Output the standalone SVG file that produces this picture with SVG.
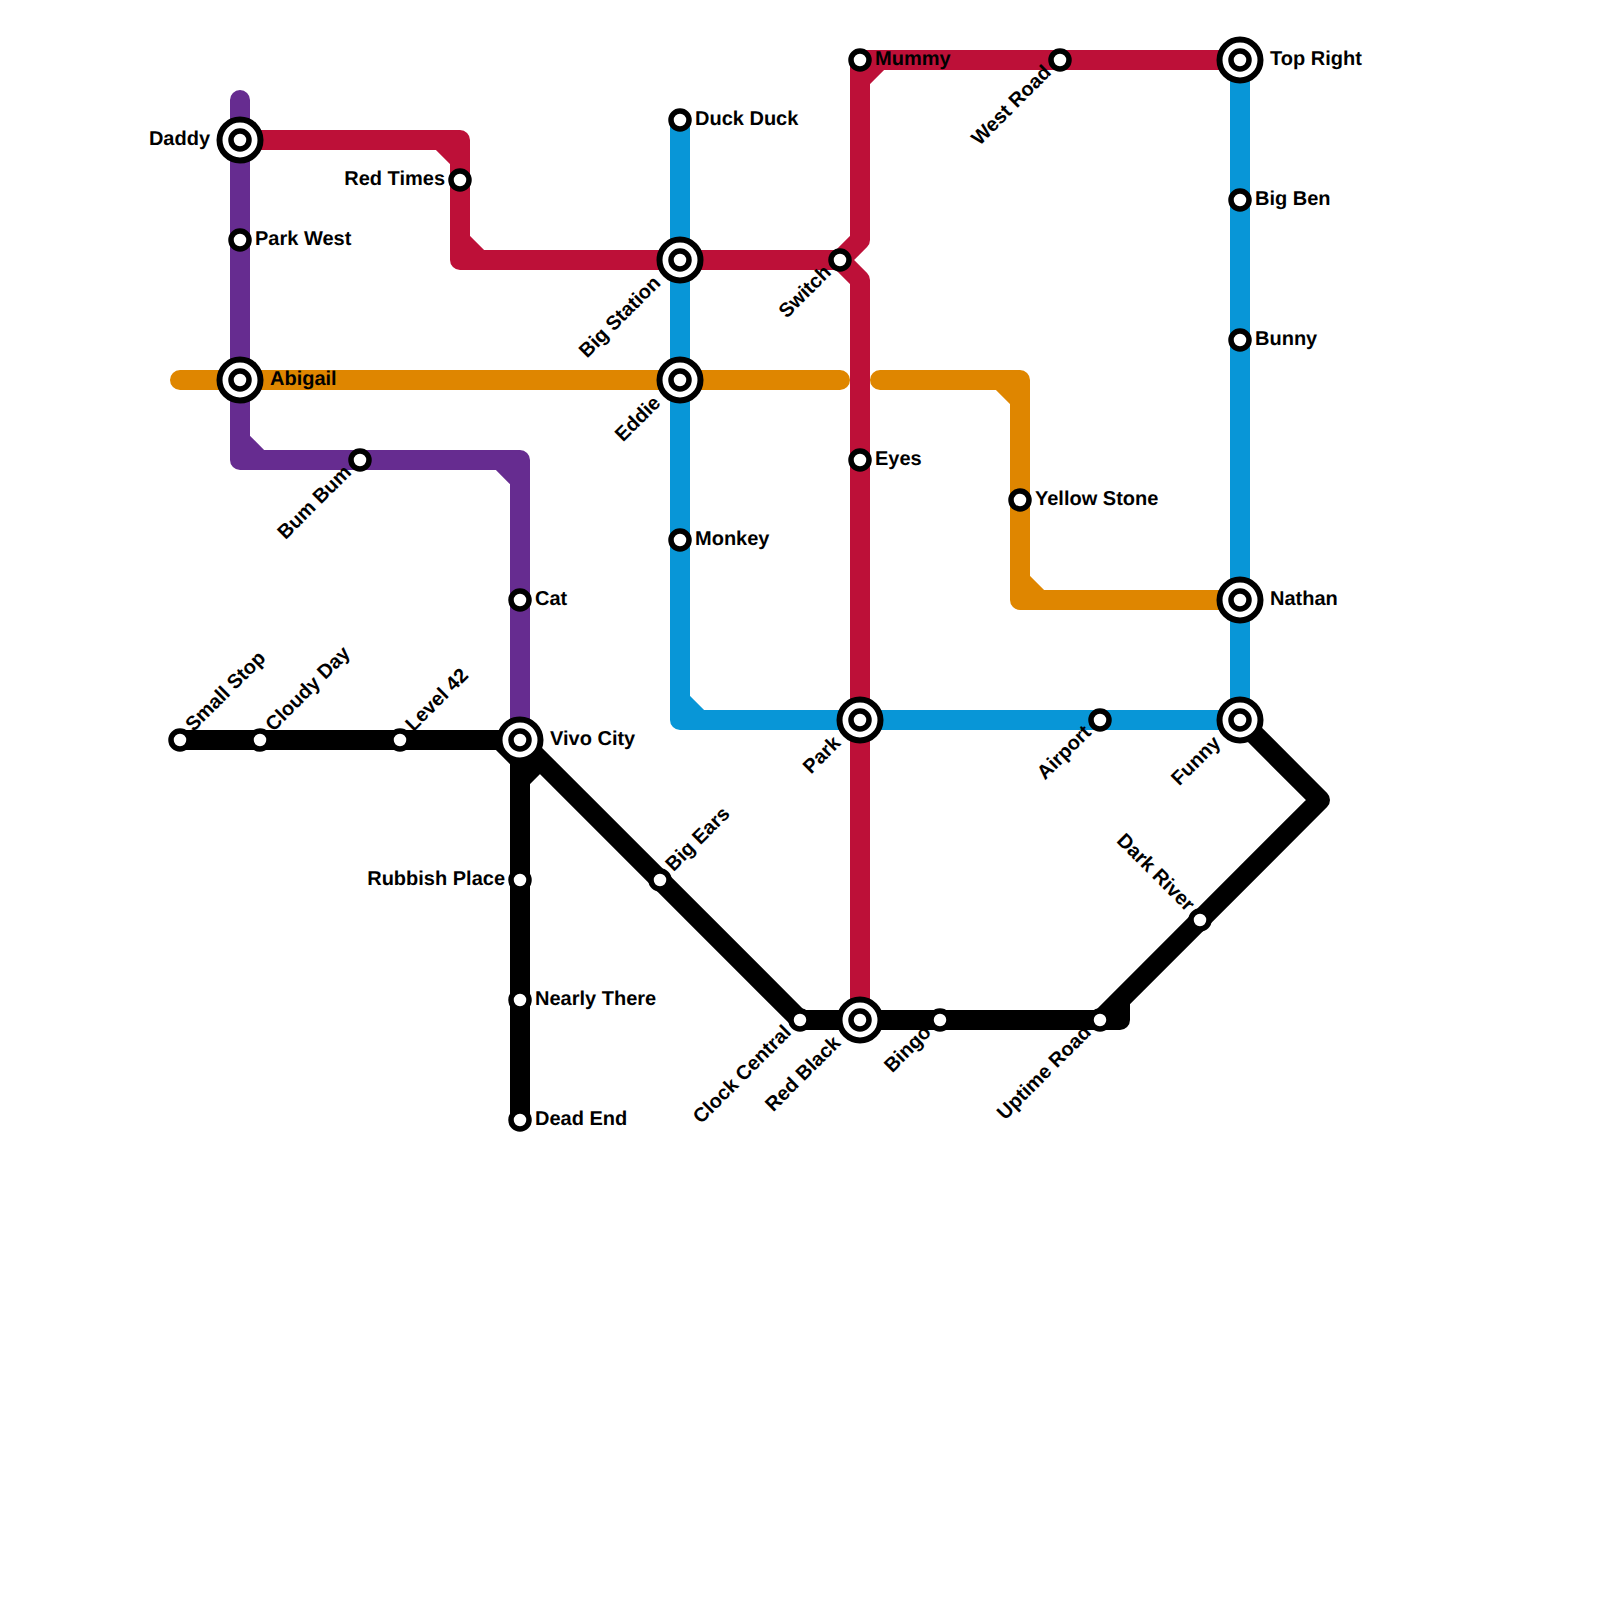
<svg xmlns="http://www.w3.org/2000/svg" width="1600" height="1600" viewBox="0 0 1600 1600">
<style>
.line{fill:none;stroke-width:20;stroke-linecap:round;stroke-linejoin:round}
.red{stroke:#bd1038}.purple{stroke:#662c90}.orange{stroke:#df8600}.blue{stroke:#0896d7}.black{stroke:#000}
.ring{fill:#fff;stroke:#000;stroke-width:5.5}
.outer{fill:#fff;stroke:#000;stroke-width:6}
text{font-family:"Liberation Sans",Arial,sans-serif;font-weight:700;font-size:20px;fill:#000;text-rendering:geometricPrecision}
.e{text-anchor:end}
</style>
<defs>
<g id="st"><circle class="ring" r="9"/></g>
<g id="ix"><circle class="outer" r="20.5"/><circle class="ring" r="9"/></g>
</defs>
<g id="connectors">
<path class="line blue" d="M680 120V720H1240M680 700L700 720M1240 60V720"/>
<path class="line purple" d="M240 100V460H520V740M240 440L260 460M500 460L520 480"/>
<path class="line orange" d="M180 380H840M880 380H1020V600H1240M1000 380L1020 400M1020 580L1040 600"/>
<path class="line red" d="M240 140H460V260H840L860 240V60H1240M440 140L460 160M460 240L480 260M860 80L880 60M840 260L860 280V1020"/>
<path class="line black" d="M180 740H520V1120M500 740L520 760M520 780L540 760M520 740L800 1020H1120V1000M1240 720L1320 800L1100 1020"/>
</g>
<g id="n-daddy"><use href="#ix" x="240" y="140"/><text class="e" x="210" y="145">Daddy</text></g>
<g id="n-park-west"><use href="#st" x="240" y="240"/><text x="255" y="245">Park West</text></g>
<g id="n-abigail"><use href="#ix" x="240" y="380"/><text x="270" y="385">Abigail</text></g>
<g id="n-red-times"><use href="#st" x="460" y="180"/><text class="e" x="445" y="185">Red Times</text></g>
<g id="n-bum-bum"><use href="#st" x="360" y="460"/><text class="e" transform="translate(360 460) rotate(-45)" x="-15" y="4">Bum Bum</text></g>
<g id="n-cat"><use href="#st" x="520" y="600"/><text x="535" y="605">Cat</text></g>
<g id="n-small-stop"><use href="#st" x="180" y="740"/><text transform="translate(180 740) rotate(-45)" x="15" y="4">Small Stop</text></g>
<g id="n-cloudy-day"><use href="#st" x="260" y="740"/><text transform="translate(260 740) rotate(-45)" x="15" y="4">Cloudy Day</text></g>
<g id="n-level-42"><use href="#st" x="400" y="740"/><text transform="translate(400 740) rotate(-45)" x="15" y="4">Level 42</text></g>
<g id="n-vivo-city"><use href="#ix" x="520" y="740"/><text x="550" y="745">Vivo City</text></g>
<g id="n-rubbish-place"><use href="#st" x="520" y="880"/><text class="e" x="505" y="885">Rubbish Place</text></g>
<g id="n-nearly-there"><use href="#st" x="520" y="1000"/><text x="535" y="1005">Nearly There</text></g>
<g id="n-dead-end"><use href="#st" x="520" y="1120"/><text x="535" y="1125">Dead End</text></g>
<g id="n-big-ears"><use href="#st" x="660" y="880"/><text transform="translate(660 880) rotate(-45)" x="15" y="4">Big Ears</text></g>
<g id="n-duck-duck"><use href="#st" x="680" y="120"/><text x="695" y="125">Duck Duck</text></g>
<g id="n-big-station"><use href="#ix" x="680" y="260"/><text class="e" transform="translate(680 260) rotate(-45)" x="-30" y="4">Big Station</text></g>
<g id="n-eddie"><use href="#ix" x="680" y="380"/><text class="e" transform="translate(680 380) rotate(-45)" x="-30" y="4">Eddie</text></g>
<g id="n-monkey"><use href="#st" x="680" y="540"/><text x="695" y="545">Monkey</text></g>
<g id="n-clock-central"><use href="#st" x="800" y="1020"/><text class="e" transform="translate(800 1020) rotate(-45)" x="-15" y="4">Clock Central</text></g>
<g id="n-switch"><use href="#st" x="840" y="260"/><text class="e" transform="translate(840 260) rotate(-45)" x="-15" y="4">Switch</text></g>
<g id="n-mummy"><use href="#st" x="860" y="60"/><text x="875" y="65">Mummy</text></g>
<g id="n-eyes"><use href="#st" x="860" y="460"/><text x="875" y="465">Eyes</text></g>
<g id="n-park"><use href="#ix" x="860" y="720"/><text class="e" transform="translate(860 720) rotate(-45)" x="-30" y="4">Park</text></g>
<g id="n-red-black"><use href="#ix" x="860" y="1020"/><text class="e" transform="translate(860 1020) rotate(-45)" x="-30" y="4">Red Black</text></g>
<g id="n-bingo"><use href="#st" x="940" y="1020"/><text class="e" transform="translate(940 1020) rotate(-45)" x="-15" y="4">Bingo</text></g>
<g id="n-yellow-stone"><use href="#st" x="1020" y="500"/><text x="1035" y="505">Yellow Stone</text></g>
<g id="n-west-road"><use href="#st" x="1060" y="60"/><text class="e" transform="translate(1060 60) rotate(-45)" x="-15" y="4">West Road</text></g>
<g id="n-airport"><use href="#st" x="1100" y="720"/><text class="e" transform="translate(1100 720) rotate(-45)" x="-15" y="4">Airport</text></g>
<g id="n-uptime-road"><use href="#st" x="1100" y="1020"/><text class="e" transform="translate(1100 1020) rotate(-45)" x="-15" y="4">Uptime Road</text></g>
<g id="n-dark-river"><use href="#st" x="1200" y="920"/><text class="e" transform="translate(1200 920) rotate(45)" x="-15" y="4">Dark River</text></g>
<g id="n-top-right"><use href="#ix" x="1240" y="60"/><text x="1270" y="65">Top Right</text></g>
<g id="n-big-ben"><use href="#st" x="1240" y="200"/><text x="1255" y="205">Big Ben</text></g>
<g id="n-bunny"><use href="#st" x="1240" y="340"/><text x="1255" y="345">Bunny</text></g>
<g id="n-nathan"><use href="#ix" x="1240" y="600"/><text x="1270" y="605">Nathan</text></g>
<g id="n-funny"><use href="#ix" x="1240" y="720"/><text class="e" transform="translate(1240 720) rotate(-45)" x="-30" y="4">Funny</text></g>
</svg>
